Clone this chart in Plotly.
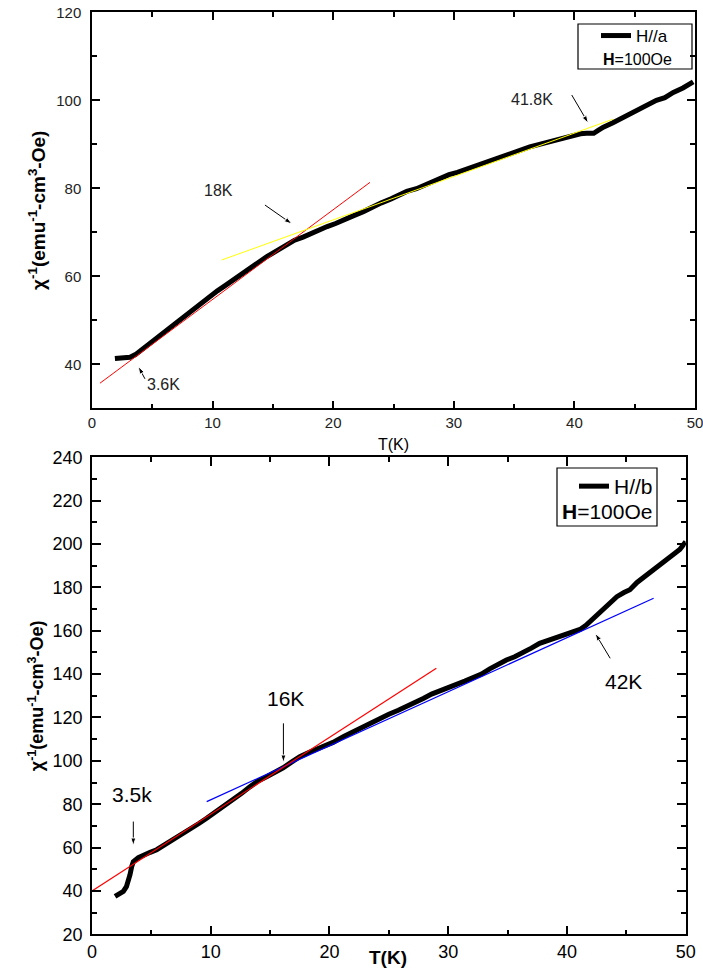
import plotly.graph_objects as go

# ---- H // a : inverse susceptibility vs temperature ----
T_A = [1.9, 2.5, 3.15, 3.6, 4.25, 5.0, 5.6, 6.2, 7.0, 7.6, 8.3, 9.0, 9.7, 10.4,
       11.1, 11.7, 12.4, 13.1, 13.8, 14.5, 15.2, 15.8, 16.4, 16.8, 17.5, 18.2,
       18.8, 19.5, 20.2, 21.0, 21.8, 22.5, 23.3, 24.0, 24.8, 25.5, 26.1, 26.9,
       27.6, 28.3, 28.9, 29.6, 30.3, 31.0, 31.6, 32.3, 33.0, 33.7, 34.4, 35.0,
       35.7, 36.3, 37.1, 37.8, 38.5, 39.2, 39.9, 40.5, 41.0, 41.6, 42.0, 42.4,
       43.2, 44.1, 44.7, 45.4, 46.1, 46.8, 47.5, 48.2, 49.0, 49.85]
CHI_A = [41.3, 41.4, 41.6, 42.2, 43.6, 45.0, 46.4, 47.9, 49.6, 50.7, 52.3, 53.8,
         55.3, 56.7, 58.0, 59.2, 60.5, 62.0, 63.1, 64.5, 65.6, 66.6, 67.5, 68.2,
         68.9, 69.8, 70.6, 71.3, 72.0, 72.8, 73.9, 74.7, 75.9, 76.7, 77.6, 78.6,
         79.3, 79.9, 80.8, 81.5, 82.4, 83.1, 83.6, 84.3, 85.0, 85.6, 86.3, 87.0,
         87.5, 88.2, 88.9, 89.4, 90.0, 90.5, 91.0, 91.6, 92.1, 92.4, 92.5, 92.5,
         93.2, 93.9, 94.9, 96.2, 96.8, 97.8, 98.8, 100.0, 100.6, 101.8, 102.8, 104.2]

# linear fits (end points)
FIT_A_LOW_T = [0.66, 23.05]
FIT_A_LOW_CHI = [35.7, 81.35]
FIT_A_HIGH_T = [10.75, 43.2]
FIT_A_HIGH_CHI = [63.7, 95.7]

# ---- H // b ----
T_B = [1.94, 2.3, 2.64, 2.9, 3.06, 3.2, 3.34, 3.48, 3.9, 4.32, 4.9, 5.45, 6.0,
       6.6, 7.2, 7.7, 8.3, 9.0, 9.66, 10.3, 11.0, 11.9, 12.6, 13.3, 13.9, 14.7,
       15.4, 16.1, 16.8, 17.5, 18.3, 19.2, 20.3, 21.2, 22.0, 22.6, 23.4, 24.3,
       25.0, 25.8, 26.5, 27.2, 27.9, 28.6, 29.3, 30.0, 30.7, 31.4, 32.1, 32.8,
       33.5, 34.2, 34.9, 35.6, 36.3, 37.0, 37.7, 38.4, 39.2, 40.0, 40.6, 41.1,
       41.6, 42.2, 42.9, 43.5, 44.2, 44.8, 45.3, 45.9, 46.7, 47.4, 48.2, 49.0,
       49.5, 50.0]
CHI_B = [37.5, 38.5, 39.8, 42.0, 44.3, 47.5, 51.2, 53.5, 55.3, 56.6, 57.8, 59.0,
         60.8, 62.8, 64.9, 66.6, 68.8, 71.1, 73.5, 75.9, 78.5, 82.0, 85.0, 88.0,
         90.4, 92.7, 94.5, 96.8, 99.4, 101.9, 104.0, 106.0, 108.5, 111.2, 113.5,
         115.0, 117.3, 119.6, 121.5, 123.3, 125.0, 127.0, 128.8, 130.8, 132.5,
         133.8, 135.3, 136.8, 138.2, 140.0, 142.4, 144.7, 146.5, 148.0, 149.8,
         152.0, 154.2, 155.6, 157.3, 158.7, 159.8, 160.6, 162.5, 165.6, 168.8,
         171.8, 175.7, 177.6, 178.9, 182.3, 185.7, 188.5, 191.6, 195.0, 197.5, 201.1]

FIT_B_LOW_T = [0.0, 29.0]
FIT_B_LOW_CHI = [40.0, 142.7]
FIT_B_HIGH_T = [9.66, 47.3]
FIT_B_HIGH_CHI = [81.2, 175.0]

# transition markers: (panel, label, label T, label chi, tail T, tail chi, head T, head chi)
TRANSITIONS = [
    ("a", "18K", 10.45, 79.6, 14.34, 76.2, 16.58, 71.9),
    ("a", "3.6K", 5.91, 35.3, 4.39, 36.7, 3.84, 39.5),
    ("a", "41.8K", 36.46, 100.1, 39.78, 101.2, 41.15, 94.8),
    ("b", "3.5k", 3.34, 84.3, 3.48, 72.0, 3.48, 60.9),
    ("b", "16K", 16.26, 128.9, 16.12, 117.3, 16.12, 99.2),
    ("b", "42K", 44.76, 136.5, 43.64, 147.3, 42.38, 158.8),
]

FONT = "Liberation Sans, Arial, sans-serif"
W, H = 703, 969


def px(x):
    return x / W


def py(y):
    return 1 - y / H


fig = go.Figure()

# top panel
fig.add_trace(go.Scatter(x=T_A, y=CHI_A, mode="lines", name="H//a",
                         line=dict(color="black", width=5), xaxis="x", yaxis="y",
                         legend="legend"))
fig.add_trace(go.Scatter(x=FIT_A_LOW_T, y=FIT_A_LOW_CHI, mode="lines", showlegend=False,
                         line=dict(color="#ff0000", width=1), xaxis="x", yaxis="y"))
fig.add_trace(go.Scatter(x=FIT_A_HIGH_T, y=FIT_A_HIGH_CHI, mode="lines", showlegend=False,
                         line=dict(color="#ffff00", width=1), xaxis="x", yaxis="y"))

# bottom panel
fig.add_trace(go.Scatter(x=T_B, y=CHI_B, mode="lines", name="H//b",
                         line=dict(color="black", width=5), xaxis="x2", yaxis="y2",
                         legend="legend2"))
fig.add_trace(go.Scatter(x=FIT_B_HIGH_T, y=FIT_B_HIGH_CHI, mode="lines", showlegend=False,
                         line=dict(color="#0000ff", width=1.2), xaxis="x2", yaxis="y2"))
fig.add_trace(go.Scatter(x=FIT_B_LOW_T, y=FIT_B_LOW_CHI, mode="lines", showlegend=False,
                         line=dict(color="#ff0000", width=1.2), xaxis="x2", yaxis="y2"))

# arrows pointing at the transitions
for panel, _, _, _, t0, c0, t1, c1 in TRANSITIONS:
    xa, ya = ("x", "y") if panel == "a" else ("x2", "y2")
    fig.add_trace(go.Scatter(
        x=[t0, t1], y=[c0, c1], mode="lines+markers", showlegend=False,
        hoverinfo="skip", xaxis=xa, yaxis=ya,
        line=dict(color="black", width=1),
        marker=dict(symbol=["circle", "arrow"], size=[1, 8], opacity=[0, 1],
                    angleref="previous", color="black")))

ytitle = "χ<sup>-1</sup>(emu<sup>-1</sup>-cm<sup>3</sup>-Oe)"

common_axis = dict(showgrid=False, zeroline=False, showline=True, linecolor="black",
                   linewidth=1.5, mirror="ticks", ticks="inside", tickcolor="black",
                   tickwidth=1.5, automargin=False, ticklabeloverflow="allow")

fig.update_layout(
    width=W, height=H, margin=dict(l=0, r=0, t=0, b=0),
    paper_bgcolor="white", plot_bgcolor="white",
    font=dict(family=FONT, color="black"),
    xaxis=dict(domain=[px(92), px(695)], anchor="y", range=[0, 50], dtick=10,
               ticklen=8, minor=dict(ticks="inside", dtick=5, ticklen=5,
                                     tickcolor="black", tickwidth=1.5),
               tickfont=dict(size=15, family=FONT, color="#222"),
               title=dict(text="T(K)", font=dict(size=16, family=FONT), standoff=9),
               **common_axis),
    yaxis=dict(domain=[py(408.3), py(12.3)], anchor="x", range=[30, 120],
               tick0=40, dtick=20, ticklen=8,
               minor=dict(ticks="inside", dtick=10, ticklen=5,
                          tickcolor="black", tickwidth=1.5),
               tickfont=dict(size=15, family=FONT, color="#222"),
               ticklabelstandoff=6,
               title=dict(text=ytitle, font=dict(size=19, family=FONT, weight="bold"),
                          standoff=6),
               **common_axis),
    xaxis2=dict(domain=[px(92), px(685.7)], anchor="y2", range=[0, 50], dtick=10,
                ticklen=9, minor=dict(ticks="inside", dtick=5, ticklen=5,
                                      tickcolor="black", tickwidth=1.5),
                tickfont=dict(size=18, family=FONT),
                **common_axis),
    yaxis2=dict(domain=[py(934.3), py(457.3)], anchor="x2", range=[20, 240],
                dtick=20, ticklen=9,
                minor=dict(ticks="inside", dtick=10, ticklen=5,
                           tickcolor="black", tickwidth=1.5),
                tickfont=dict(size=18, family=FONT),
                ticklabelstandoff=4,
                title=dict(text=ytitle, font=dict(size=18, family=FONT, weight="bold"),
                           standoff=4),
                **common_axis),
    legend=dict(x=px(596), y=py(18), xanchor="left", yanchor="top",
                bgcolor="rgba(0,0,0,0)", borderwidth=0,
                font=dict(size=17, family=FONT), tracegroupgap=0),
    legend2=dict(x=px(574), y=py(466), xanchor="left", yanchor="top",
                 bgcolor="rgba(0,0,0,0)", borderwidth=0,
                 font=dict(size=21, family=FONT), tracegroupgap=0),
)

# legend frames
fig.add_shape(type="rect", xref="paper", yref="paper",
              x0=px(578), x1=px(692), y0=py(69), y1=py(24),
              line=dict(color="black", width=1.2))
fig.add_shape(type="rect", xref="paper", yref="paper",
              x0=px(557), x1=px(657), y0=py(526), y1=py(468),
              line=dict(color="black", width=1.2))

annotations = [
    # field labels inside the legend frames
    dict(text="<b>H</b>=100Oe", xref="paper", yref="paper", x=px(637), y=py(59),
         xanchor="center", yanchor="middle", showarrow=False,
         font=dict(size=16, family=FONT)),
    dict(text="<b>H</b>=100Oe", xref="paper", yref="paper", x=px(607), y=py(511),
         xanchor="center", yanchor="middle", showarrow=False,
         font=dict(size=21, family=FONT)),
    # bottom x title
    dict(text="<b>T(K)</b>", xref="paper", yref="paper", x=px(388), y=py(957),
         xanchor="center", yanchor="middle", showarrow=False,
         font=dict(size=19, family=FONT)),
]

for panel, label, tx, ty, *_ in TRANSITIONS:
    xa, ya = ("x", "y") if panel == "a" else ("x2", "y2")
    size, color = (16, "#222") if panel == "a" else (21, "black")
    annotations.append(dict(text=label, xref=xa, yref=ya, x=tx, y=ty,
                            xanchor="center", yanchor="middle", showarrow=False,
                            font=dict(size=size, family=FONT, color=color)))

fig.update_layout(annotations=annotations)

fig.write_html("out.html")
